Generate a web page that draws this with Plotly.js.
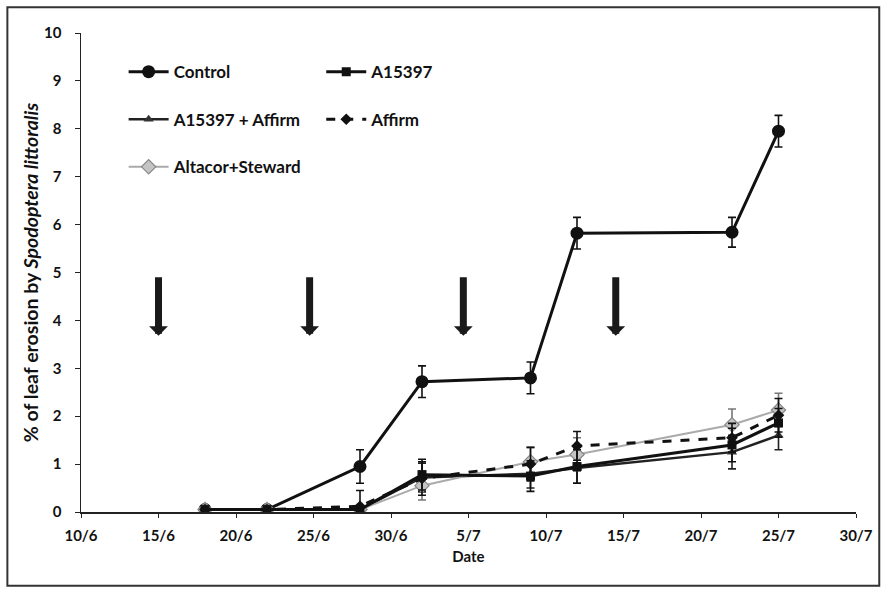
<!DOCTYPE html>
<html>
<head>
<meta charset="utf-8">
<script src="https://cdn.plot.ly/plotly-3.0.1.min.js"></script>
<style>html,body{margin:0;padding:0;background:#fff}#chart{width:884px;height:593px}</style>
</head>
<body>
<div id="chart"></div>
<script>
// Sampling dates (day/month)
const dates = ["2012-06-18","2012-06-22","2012-06-28","2012-07-02","2012-07-09","2012-07-12","2012-07-22","2012-07-25"];

const controlVals = [0.05, 0.05, 0.95, 2.72, 2.80, 5.82, 5.84, 7.95];
const controlErr  = [0, 0, 0.35, 0.33, 0.33, 0.33, 0.31, 0.33];

const a15397Vals = [0.05, 0.05, 0.05, 0.78, 0.75, 0.95, 1.40, 1.86];
const a15397Err  = [0, 0, 0, 0.32, 0.32, 0.35, 0.35, 0.30];

const a15397AffVals = [0.05, 0.05, 0.05, 0.72, 0.80, 0.92, 1.25, 1.60];
const a15397AffErr  = [0, 0, 0, 0.30, 0.30, 0.32, 0.35, 0.30];

const affirmVals = [0.05, 0.05, 0.12, 0.70, 1.00, 1.38, 1.55, 2.02];
const affirmErr  = [0, 0, 0.33, 0.35, 0.35, 0.30, 0.30, 0.35];

const altacorVals = [0.05, 0.05, 0.05, 0.55, 1.05, 1.20, 1.82, 2.13];
const altacorErr  = [0, 0, 0.05, 0.30, 0.30, 0.35, 0.33, 0.35];

// Treatment application dates (arrows)
const arrowDates = ["2012-06-15","2012-06-24 18:00","2012-07-04 16:00","2012-07-14 12:00"];
const arrowTipValue = 3.68;

// Tick labels
const xTickVals = ["2012-06-10","2012-06-15","2012-06-20","2012-06-25","2012-06-30","2012-07-05","2012-07-10","2012-07-15","2012-07-20","2012-07-25","2012-07-30"];
const xTickText = ["10/6","15/6","20/6","25/6","30/6","5/7","10/7","15/7","20/7","25/7","30/7"];
const yTicks = [0,1,2,3,4,5,6,7,8,9,10];

const FONT = "Lato, 'Open Sans', sans-serif";

function eb(arr, color){
  return {type:'data', array:arr, visible:true, color:color, thickness:1.6, width:4};
}

const traces = [
  {x:dates, y:controlVals, name:'<b>Control</b>', mode:'lines+markers', legend:'legend', legendgroup:'c',
   line:{color:'#111', width:3}, marker:{symbol:'circle', size:13, color:'#111'}, error_y:eb(controlErr,'#111')},
  {x:dates, y:a15397AffVals, name:'<b>A15397 + Affirm</b>', mode:'lines+markers', legend:'legend', legendgroup:'b',
   line:{color:'#222', width:2.5}, marker:{symbol:'triangle-up', size:9, color:'#333'}, error_y:eb(a15397AffErr,'#222')},
  {x:dates, y:altacorVals, name:'<b>Altacor+Steward</b>', mode:'lines+markers', legend:'legend', legendgroup:'a',
   line:{color:'#aaa', width:2}, marker:{symbol:'diamond', size:11, color:'#c4c4c4', line:{color:'#888', width:1.2}}, error_y:eb(altacorErr,'#777')},
  {x:dates, y:a15397Vals, name:'<b>A15397</b>', mode:'lines+markers', legend:'legend2', legendgroup:'s',
   line:{color:'#111', width:3}, marker:{symbol:'square', size:9, color:'#111'}, error_y:eb(a15397Err,'#111')},
  {x:dates, y:affirmVals, name:'<b>Affirm</b>', mode:'lines+markers', legend:'legend2', legendgroup:'d',
   line:{color:'#111', width:3, dash:'dash'}, marker:{symbol:'diamond', size:9, color:'#111'}, error_y:eb(affirmErr,'#111')}
];

const annotations = arrowDates.map(d => ({
  x:d, y:arrowTipValue, xref:'x', yref:'y', text:'', showarrow:true,
  ax:0, ay:-60, arrowhead:1, arrowwidth:7, arrowsize:0.45, arrowcolor:'#1a1a1a'
}));

const layout = {
  width:884, height:593,
  margin:{l:81, r:28, t:33, b:81},
  paper_bgcolor:'#fff', plot_bgcolor:'#fff',
  font:{family:FONT, color:'#111', size:13},
  showlegend:true,
  xaxis:{
    type:'date', range:['2012-06-10','2012-07-30'],
    tickvals:xTickVals, ticktext:xTickText.map(t => '<b>' + t + '</b>'),
    showgrid:false, zeroline:false, showline:true, linecolor:'#222', linewidth:1.5,
    ticks:'outside', ticklen:4, tickcolor:'#222', ticklabelstandoff:5,
    tickfont:{family:FONT, size:15, color:'#111'},
    title:{text:'<b>Date</b>', font:{family:FONT, size:15, color:'#111'}, standoff:9}
  },
  yaxis:{
    range:[0,10], tickvals:yTicks, ticktext:yTicks.map(t => '<b>' + t + '</b>'),
    showgrid:false, zeroline:false, showline:true, linecolor:'#222', linewidth:1.5,
    ticks:'outside', ticklen:5, tickcolor:'#222', ticklabelstandoff:10,
    tickfont:{family:FONT, size:15, color:'#111'},
    title:{text:'<b>% of leaf erosion by <i>Spodoptera littoralis</i></b>', font:{family:FONT, size:19.5, color:'#111'}, standoff:0}
  },
  legend:{x:0.055, y:0.956, xanchor:'left', yanchor:'top', bgcolor:'rgba(0,0,0,0)', itemwidth:40,
    font:{family:FONT, size:17, color:'#111'}, tracegroupgap:22.5, traceorder:'grouped'},
  legend2:{x:0.31, y:0.956, xanchor:'left', yanchor:'top', bgcolor:'rgba(0,0,0,0)', itemwidth:40,
    font:{family:FONT, size:17, color:'#111'}, tracegroupgap:22.5, traceorder:'grouped'},
  annotations:annotations,
  shapes:[{type:'rect', xref:'paper', yref:'paper', x0:-0.095, x1:1.03, y0:-0.154, y1:1.054,
    line:{color:'#333', width:2}, fillcolor:'rgba(0,0,0,0)'}]
};

Plotly.newPlot('chart', traces, layout, {displayModeBar:false, staticPlot:true});
</script>
</body>
</html>
